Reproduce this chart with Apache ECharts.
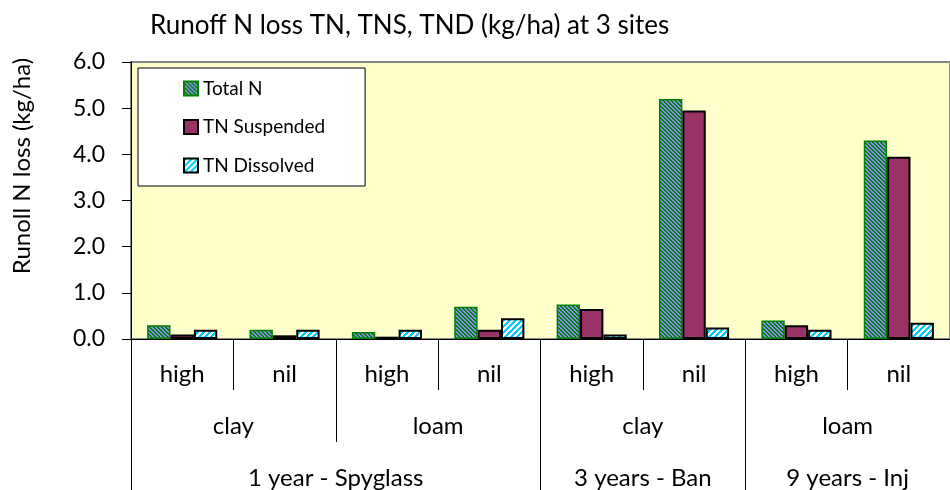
<!DOCTYPE html>
<html>
<head>
<meta charset="utf-8">
<script src="https://cdn.jsdelivr.net/npm/echarts@6/dist/echarts.min.js"></script>
<style>
html,body{margin:0;padding:0;background:#fff;}
#chart{width:950px;height:490px;}
</style>
</head>
<body>
<div id="chart"></div>
<script>
// ---- data ----
const titleText = 'Runoff N loss TN, TNS, TND (kg/ha) at 3 sites';
const yAxisTitle = 'Runoll N loss (kg/ha)';
const seriesNames = ['Total N', 'TN Suspended', 'TN Dissolved'];
const rateCats = ['high', 'nil', 'high', 'nil', 'high', 'nil', 'high', 'nil'];
const soilCats = ['clay', 'loam', 'clay', 'loam'];
const siteCats = ['1 year - Spyglass', '3 years - Ban', '9 years - Inj'];
const siteSpans = [4, 2, 2];
const totalN = [0.3, 0.2, 0.15, 0.7, 0.75, 5.2, 0.4, 4.3];
const tnSuspended = [0.1, 0.08, 0.05, 0.2, 0.65, 4.95, 0.3, 3.95];
const tnDissolved = [0.2, 0.2, 0.2, 0.45, 0.1, 0.25, 0.2, 0.35];

// site boundaries / centers (in category units)
const siteBounds = [0];
siteSpans.forEach(s => siteBounds.push(siteBounds[siteBounds.length - 1] + s));
const siteCenters = siteSpans.map((s, i) => siteBounds[i] + s / 2);

function hexRgb(h) {
  h = h.replace('#', '');
  return [parseInt(h.substr(0, 2), 16), parseInt(h.substr(2, 2), 16), parseInt(h.substr(4, 2), 16)];
}
function makePattern(size, bg, fg, stripe, up) {
  const c = document.createElement('canvas');
  c.width = size; c.height = size;
  const ctx = c.getContext('2d');
  const img = ctx.createImageData(size, size);
  const b = hexRgb(bg), f = hexRgb(fg);
  for (let y = 0; y < size; y++) {
    for (let x = 0; x < size; x++) {
      const k = up ? (x + y) : (x - y + size * 10);
      const col = (k % size) < stripe ? f : b;
      const i = (y * size + x) * 4;
      img.data[i] = col[0]; img.data[i + 1] = col[1]; img.data[i + 2] = col[2]; img.data[i + 3] = 255;
    }
  }
  ctx.putImageData(img, 0, 0);
  return { image: c, repeat: 'repeat' };
}
const patTotal = makePattern(4, '#008000', '#8C8CFF', 2, false);
const patDiss = makePattern(6, '#FFFFFF', '#00CCFF', 3, true);

const FONT = 'Lato';
const chart = echarts.init(document.getElementById('chart'), null, { renderer: 'canvas' });

chart.setOption({
  animation: false,
  backgroundColor: '#ffffff',
  title: {
    text: titleText,
    left: 145,
    top: 8,
    textStyle: { fontFamily: FONT, fontSize: 26, fontWeight: 'normal', color: '#000' }
  },
  legend: {
    orient: 'vertical',
    left: 138,
    top: 68,
    padding: [11, 40, 11, 45],
    itemGap: 19.5,
    itemWidth: 14,
    itemHeight: 14,
    icon: 'rect',
    backgroundColor: '#ffffff',
    borderColor: '#000000',
    borderWidth: 1,
    textStyle: { fontFamily: FONT, fontSize: 19, color: '#000' },
    data: seriesNames
  },
  graphic: [{
    type: 'text',
    x: 22, y: 166,
    rotation: Math.PI / 2,
    style: {
      text: yAxisTitle,
      fontFamily: FONT, fontSize: 24, fill: '#000',
      align: 'center', verticalAlign: 'middle'
    }
  }],
  grid: {
    left: 131, top: 62, width: 829, height: 277,
    show: true,
    backgroundColor: '#FFFFCC',
    borderColor: '#888888',
    borderWidth: 2
  },
  yAxis: {
    type: 'value',
    min: 0, max: 6, interval: 1,
    axisLine: { show: true, lineStyle: { color: '#000', width: 1 } },
    axisTick: { show: true, length: 9, lineStyle: { color: '#000' } },
    splitLine: { show: false },
    axisLabel: {
      margin: 26,
      fontFamily: FONT, fontSize: 23, color: '#000',
      formatter: v => v.toFixed(1)
    }
  },
  xAxis: [
    {
      type: 'category',
      data: rateCats,
      position: 'bottom',
      axisLine: { show: true, lineStyle: { color: '#000', width: 1 } },
      axisTick: { show: true, interval: 0, length: 51, lineStyle: { color: '#000' } },
      axisLabel: { interval: 0, margin: 23, fontFamily: FONT, fontSize: 24, color: '#000' }
    },
    {
      type: 'category',
      data: soilCats,
      position: 'bottom',
      axisLine: { show: false },
      axisTick: { show: true, interval: 0, length: 103, lineStyle: { color: '#000' } },
      axisLabel: { interval: 0, margin: 75, fontFamily: FONT, fontSize: 24, color: '#000' }
    },
    {
      type: 'value',
      min: 0, max: rateCats.length,
      position: 'bottom',
      axisLine: { show: false },
      splitLine: { show: false },
      axisTick: { show: true, customValues: siteBounds, length: 152, lineStyle: { color: '#000' } },
      axisLabel: {
        customValues: siteCenters,
        margin: 127,
        fontFamily: FONT, fontSize: 24, color: '#000',
        formatter: v => {
          const i = siteCenters.indexOf(v);
          return i >= 0 ? siteCats[i] : '';
        }
      }
    }
  ],
  series: [
    {
      name: seriesNames[0], type: 'bar', xAxisIndex: 0,
      data: totalN,
      barGap: '0%', barCategoryGap: '31.5%',
      itemStyle: { color: patTotal, borderColor: '#008000', borderWidth: 1.5 }
    },
    {
      name: seriesNames[1], type: 'bar', xAxisIndex: 0,
      data: tnSuspended,
      itemStyle: { color: '#993366', borderColor: '#000000', borderWidth: 2 }
    },
    {
      name: seriesNames[2], type: 'bar', xAxisIndex: 0,
      data: tnDissolved,
      itemStyle: { color: patDiss, borderColor: '#000000', borderWidth: 2 }
    }
  ]
});
</script>
</body>
</html>
